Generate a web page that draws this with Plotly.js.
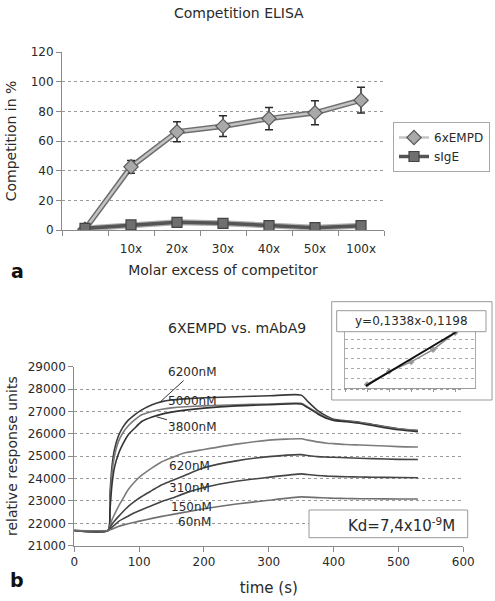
<!DOCTYPE html>
<html>
<head>
<meta charset="utf-8">
<script src="https://cdn.plot.ly/plotly-3.0.1.min.js"></script>
<style>html,body{margin:0;padding:0;background:#fff;}#chart{width:495px;height:601px;}</style>
</head>
<body>
<div id="chart"></div>
<script>
// ---------- Panel a: Competition ELISA ----------
const categories = ["", "10x", "20x", "30x", "40x", "50x", "100x"];
const empdValues = [0.5, 42.6, 66.2, 70, 75.1, 79, 87.5];
const empdErrors = [0, 4.3, 6.7, 7, 7.5, 8.1, 8.7];
const sigeValues = [1.1, 3.4, 5.2, 4.5, 2.9, 1.6, 2.9];

// ---------- Panel b: 6XEMPD vs. mAbA9 ----------
const time = [0, 52, 55, 58, 62, 68, 75, 83, 93, 104, 120, 135, 150, 171, 200, 250, 300, 350, 360, 375, 390, 400, 420, 440, 460, 500, 530];
const c6200 = [21680, 21680, 23300, 24500, 25300, 25900, 26300, 26600, 26850, 27070, 27300, 27440, 27510, 27560, 27610, 27660, 27700, 27730, 27450, 27050, 26780, 26650, 26580, 26520, 26420, 26230, 26150];
const c5000 = [21680, 21680, 23000, 24200, 25000, 25650, 26050, 26350, 26620, 26850, 27000, 27100, 27160, 27210, 27250, 27300, 27330, 27360, 27200, 26950, 26720, 26620, 26560, 26500, 26400, 26220, 26150];
const c3800 = [21680, 21680, 22600, 23700, 24500, 25100, 25550, 25950, 26250, 26550, 26750, 26880, 26970, 27060, 27150, 27250, 27300, 27330, 27170, 26900, 26680, 26600, 26540, 26470, 26370, 26180, 26100];
const c620  = [21680, 21680, 21900, 22150, 22400, 22750, 23100, 23500, 23850, 24150, 24480, 24750, 24930, 25150, 25300, 25540, 25720, 25780, 25720, 25640, 25580, 25560, 25520, 25500, 25480, 25430, 25410];
const c310  = [21680, 21680, 21800, 21950, 22100, 22300, 22520, 22750, 22980, 23200, 23470, 23720, 23900, 24150, 24480, 24790, 24980, 25070, 25030, 24980, 24960, 24950, 24930, 24910, 24890, 24860, 24850];
const c150  = [21680, 21680, 21740, 21820, 21920, 22080, 22200, 22320, 22470, 22610, 22800, 22980, 23120, 23350, 23600, 23880, 24060, 24210, 24180, 24140, 24110, 24100, 24080, 24070, 24060, 24050, 24040];
const c60   = [21680, 21680, 21710, 21740, 21790, 21860, 21920, 21980, 22050, 22120, 22220, 22310, 22390, 22500, 22650, 22860, 23030, 23180, 23170, 23150, 23130, 23120, 23110, 23100, 23100, 23090, 23090];
const curveLabels = ["6200nM", "5000nM", "3800nM", "620nM", "310nM", "150nM", "60nM"];

// ---------- Inset: linear fit ----------
const insetX = [1, 2, 3, 4, 5];
const insetY = [0.39, 1.70, 2.68, 3.92, 5.65];
const fitX = [0.95, 5.05];
const fitY = [0.25, 5.72];

const W = 495, H = 601;
const px = v => v / W;
const py = v => 1 - v / H;
const FONT = "DejaVu Sans, Verdana, sans-serif";
const TXT = "#2a2a2a";

const catIdx = categories.map((c, i) => i);
const labelIdx = catIdx.filter(i => categories[i] !== "");
const labelTxt = labelIdx.map(i => categories[i]);

const traces = [];
// 6xEMPD: dark outline under light line
traces.push({x: catIdx, y: empdValues, xaxis: "x", yaxis: "y", mode: "lines", showlegend: false, hoverinfo: "skip",
  line: {color: "#6e6e6e", width: 5.5}});
traces.push({x: catIdx, y: empdValues, xaxis: "x", yaxis: "y", mode: "lines+markers", name: "6xEMPD",
  line: {color: "#c4c4c4", width: 2.5},
  marker: {symbol: "diamond", size: 11, color: "#a9a9a9", line: {color: "#5a5a5a", width: 1.2}},
  error_y: {type: "data", array: empdErrors, visible: true, color: "#2a2a2a", thickness: 1.5, width: 4}});
// sIgE
traces.push({x: catIdx, y: sigeValues, xaxis: "x", yaxis: "y", mode: "lines", showlegend: false, hoverinfo: "skip",
  line: {color: "#b0b0b0", width: 6}});
traces.push({x: catIdx, y: sigeValues, xaxis: "x", yaxis: "y", mode: "lines+markers", name: "sIgE",
  line: {color: "#555555", width: 3.5},
  marker: {symbol: "square", size: 10, color: "#6f6f6f", line: {color: "#444444", width: 1.2}}});

// Panel b curves
const curves = [c6200, c5000, c3800, c620, c310, c150, c60];
const curveColors = ["#3a3a3a", "#7a7a7a", "#333333", "#7c7c7c", "#454545", "#454545", "#707070"];
curves.forEach((c, i) => {
  traces.push({x: time, y: c, xaxis: "x2", yaxis: "y2", mode: "lines", name: curveLabels[i], showlegend: false,
    line: {color: curveColors[i], width: 1.6, shape: "spline", smoothing: 0.6}});
});

// Inset
traces.push({x: insetX, y: insetY, xaxis: "x3", yaxis: "y3", mode: "lines+markers", showlegend: false,
  line: {color: "#8a8a8a", width: 1.5}, marker: {symbol: "diamond", size: 5, color: "#9a9a9a"}});
traces.push({x: fitX, y: fitY, xaxis: "x3", yaxis: "y3", mode: "lines", showlegend: false,
  line: {color: "#111111", width: 2}});

const gridStyle = {showgrid: true, gridcolor: "#9a9a9a", gridwidth: 1, griddash: "3px,3px"};
const A = {xanchor: "center", yanchor: "middle", showarrow: false};

const layout = {
  width: W, height: H, autosize: false,
  margin: {l: 0, r: 0, t: 0, b: 0},
  paper_bgcolor: "#ffffff", plot_bgcolor: "rgba(0,0,0,0)",
  font: {family: FONT, color: TXT, size: 12},
  showlegend: true,
  legend: {x: px(393), y: py(122), xanchor: "left", yanchor: "top", bordercolor: "#a8a8a8", borderwidth: 1,
    bgcolor: "#ffffff", font: {size: 12, family: FONT, color: TXT}, tracegroupgap: 0, itemwidth: 30},
  xaxis: {domain: [px(62), px(384)], range: [-0.5, 6.5], tickmode: "array", tickvals: labelIdx, ticktext: labelTxt,
    ticks: "", showline: true, linecolor: "#8a8a8a", linewidth: 1, showgrid: false, zeroline: false,
    ticklabelstandoff: 8, tickfont: {size: 12},
    minor: {ticks: "outside", tick0: 0.5, dtick: 1, ticklen: 5, tickcolor: "#8a8a8a", showgrid: false},
    title: {text: "Molar excess of competitor", font: {size: 14}, standoff: 9}, anchor: "y", fixedrange: true},
  yaxis: Object.assign({domain: [py(230), py(52)], range: [0, 120], dtick: 20, ticks: "outside", ticklen: 5,
    tickcolor: "#8a8a8a", showline: true, linecolor: "#8a8a8a", zeroline: false, tickfont: {size: 12},
    title: {text: "Competition in %", font: {size: 14}, standoff: 10}, anchor: "x"}, gridStyle),
  xaxis2: {domain: [px(74.3), px(463.3)], range: [0, 600], dtick: 100, ticks: "outside", ticklen: 5, tickcolor: "#8a8a8a",
    showline: true, linecolor: "#8a8a8a", showgrid: false, zeroline: false, tickfont: {size: 12},
    title: {text: "time (s)", font: {size: 15}, standoff: 14}, anchor: "y2"},
  yaxis2: Object.assign({domain: [py(545.7), py(366.7)], range: [21000, 29000], dtick: 1000, ticks: "outside", ticklen: 5,
    tickcolor: "#8a8a8a", showline: true, linecolor: "#8a8a8a", zeroline: false, tickfont: {size: 12},
    tickformat: "d", title: {text: "relative response units", font: {size: 14}, standoff: 6}, anchor: "x2"}, gridStyle),
  xaxis3: {domain: [px(345), px(475)], range: [0, 5.9], dtick: 1, ticks: "outside", ticklen: 3, tickcolor: "#999",
    showticklabels: false, showline: true, linecolor: "#999", showgrid: false, zeroline: false, anchor: "y3"},
  yaxis3: Object.assign({domain: [py(388.3), py(331.7)], range: [0, 5.75], dtick: 1, ticks: "", showticklabels: false,
    showline: true, mirror: true, linecolor: "#aaa", zeroline: false, anchor: "x3"}, gridStyle, {gridcolor: "#aaaaaa"}),
  shapes: [
    {type: "rect", xref: "paper", yref: "paper", x0: px(331.7), x1: px(492), y0: py(400), y1: py(301.7),
      line: {color: "#999999", width: 1}, fillcolor: "rgba(0,0,0,0)", layer: "below"},
    {type: "rect", xref: "paper", yref: "paper", x0: px(336.7), x1: px(486), y0: py(331.7), y1: py(310.7),
      line: {color: "#999999", width: 1}, fillcolor: "#ffffff", layer: "above"},
    {type: "rect", xref: "paper", yref: "paper", x0: px(309), x1: px(467.7), y0: py(537.7), y1: py(510),
      line: {color: "#999999", width: 1}, fillcolor: "#ffffff"}
  ],
  annotations: [
    Object.assign({text: "Competition ELISA", xref: "paper", yref: "paper", x: px(239), y: py(13),
      font: {size: 14, color: TXT}}, A),
    Object.assign({text: "<b>a</b>", xref: "paper", yref: "paper", x: px(17), y: py(271), font: {size: 19, color: "#111"}}, A),
    Object.assign({text: "6XEMPD vs. mAbA9", xref: "paper", yref: "paper", x: px(237), y: py(328),
      font: {size: 14, color: TXT}}, A),
    Object.assign({text: "<b>b</b>", xref: "paper", yref: "paper", x: px(17), y: py(580), font: {size: 19, color: "#111"}}, A),
    Object.assign({text: "y=0,1338x-0,1198", xref: "paper", yref: "paper", x: px(411.3), y: py(320.5),
      font: {size: 12, color: TXT}}, A),
    Object.assign({text: "Kd=7,4x10<sup>-9</sup>M", xref: "paper", yref: "paper", x: px(401), y: py(525),
      font: {size: 15, color: TXT}}, A),
    // curve labels
    {text: curveLabels[0], xref: "x2", yref: "y2", x: 133, y: 27440, axref: "x2", ayref: "y2", ax: 183, ay: 28760,
      showarrow: true, arrowhead: 0, arrowwidth: 1, arrowcolor: "#333", font: {size: 12, color: TXT}},
    Object.assign({text: curveLabels[1], xref: "x2", yref: "y2", x: 183, y: 27470, font: {size: 12, color: TXT}}, A),
    {text: curveLabels[2], xref: "x2", yref: "y2", x: 127, y: 26760, axref: "x2", ayref: "y2", ax: 183, ay: 26300,
      showarrow: true, arrowhead: 0, arrowwidth: 1, arrowcolor: "#333", font: {size: 12, color: TXT}},
    Object.assign({text: curveLabels[3], xref: "x2", yref: "y2", x: 177, y: 24570, font: {size: 12, color: TXT}}, A),
    Object.assign({text: curveLabels[4], xref: "x2", yref: "y2", x: 178, y: 23590, font: {size: 12, color: TXT}}, A),
    Object.assign({text: curveLabels[5], xref: "x2", yref: "y2", x: 180, y: 22740, font: {size: 12, color: TXT}}, A),
    Object.assign({text: curveLabels[6], xref: "x2", yref: "y2", x: 186, y: 22070, font: {size: 12, color: TXT}}, A)
  ]
};

Plotly.newPlot("chart", traces, layout, {staticPlot: true, displayModeBar: false});
</script>
</body>
</html>
